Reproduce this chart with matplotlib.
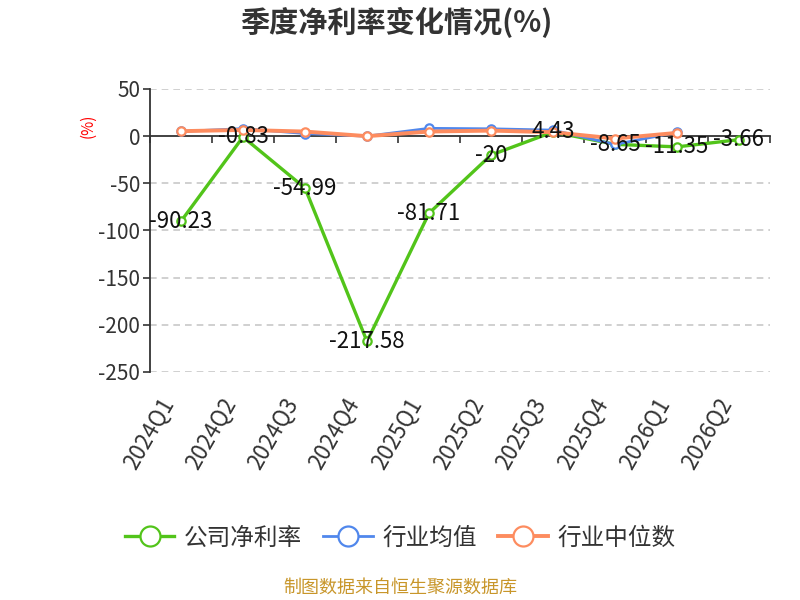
import numpy as np
import matplotlib
matplotlib.use("Agg")
import matplotlib.pyplot as plt
from matplotlib.transforms import ScaledTranslation

plt.rcParams['font.family'] = ['Noto Sans CJK SC', 'DejaVu Sans']
plt.rcParams['axes.unicode_minus'] = False

quarters = ['2024Q1', '2024Q2', '2024Q3', '2024Q4', '2025Q1',
            '2025Q2', '2025Q3', '2025Q4', '2026Q1', '2026Q2']
company = [-90.23, -0.83, -54.99, -217.58, -81.71, -20, 4.43, -8.65, -11.35, -3.66]
company_labels = ['-90.23', '-0.83', '-54.99', '-217.58', '-81.71',
                  '-20', '4.43', '-8.65', '-11.35', '-3.66']
industry_mean = [5.0, 8.0, 2.8, 0.0, 8.3, 7.8, 6.4, -8.8, 4.2, np.nan]
industry_median = [5.3, 6.6, 4.9, 0.0, 4.9, 5.9, 4.2, -2.5, 3.5, np.nan]
y_ticks = [50, 0, -50, -100, -150, -200, -250]

c_green = '#52c41a'
c_blue = '#5087ec'
c_orange = '#fd8c5f'
c_text = '#333333'

fig = plt.figure(figsize=(8, 6), dpi=100)
ax = fig.add_axes([150 / 800, 1 - 372 / 600, 620 / 800, 283 / 600])

x = np.arange(len(quarters))
mk = dict(marker='o', markersize=6, markerfacecolor='white', markeredgewidth=1.6)
ax.plot(x, company, color=c_green, lw=2.4, markeredgecolor=c_green,
        label='公司净利率', zorder=3, **mk)
ax.plot(x, industry_mean, color=c_blue, lw=2.0, markeredgecolor=c_blue,
        label='行业均值', zorder=4, **mk)
ax.plot(x, industry_median, color=c_orange, lw=2.8, markeredgecolor=c_orange,
        label='行业中位数', zorder=5, **mk)

for xi, v, s in zip(x, company, company_labels):
    ax.text(xi, v, s, ha='center', va='center', fontsize=16, color='#111111', zorder=6)

ax.set_xlim(-0.5, len(quarters) - 0.5)
ax.set_ylim(-250, 50)
ax.set_yticks(y_ticks)
ax.tick_params(axis='y', direction='out', length=5, width=1.2, color=c_text,
               labelsize=15, labelcolor=c_text, pad=2)
for t in y_ticks:
    if t != 0:
        ax.axhline(t, color='#c8c8c8', lw=1.2, ls=(0, (4, 3)), zorder=1)

for s in ['top', 'right']:
    ax.spines[s].set_visible(False)
ax.spines['left'].set_color(c_text)
ax.spines['left'].set_linewidth(1.3)
ax.spines['bottom'].set_position(('data', 0))
ax.spines['bottom'].set_color(c_text)
ax.spines['bottom'].set_linewidth(1.3)
ax.spines['bottom'].set_zorder(2)
ax.set_xticks(np.arange(-0.5, len(quarters)), labels=[])
ax.tick_params(axis='x', direction='out', length=5, width=1.2, color=c_text)

sec = ax.secondary_xaxis('bottom')
sec.spines['bottom'].set_visible(False)
sec.set_xticks(x, labels=quarters)
sec.tick_params(axis='x', length=0, pad=20, labelsize=16, labelcolor=c_text)
off = ScaledTranslation(-0.13, 0, fig.dpi_scale_trans)
for lab in sec.get_xticklabels():
    lab.set_rotation(60)
    lab.set_rotation_mode('anchor')
    lab.set_ha('right')
    lab.set_va('center')
    lab.set_transform(lab.get_transform() + off)

fig.text(396 / 800, 1 - 22 / 600, '季度净利率变化情况(%)', ha='center', va='center',
         fontsize=21, fontweight='bold', color=c_text)
fig.text(88 / 800, 1 - 126 / 600, '(%)', ha='center', va='center', rotation=90,
         fontsize=11, color='red')

fig.legend(loc='center', bbox_to_anchor=(0.5, 1 - 538 / 600), ncol=3, frameon=False,
           fontsize=17, handlelength=2.1, handletextpad=0.4, columnspacing=0.9,
           markerscale=2.4, labelcolor=c_text)

fig.text(0.5, 1 - 588 / 600, '制图数据来自恒生聚源数据库', ha='center', va='center',
         fontsize=13, color='#c8962a')

fig.savefig('out.png', dpi=100)
